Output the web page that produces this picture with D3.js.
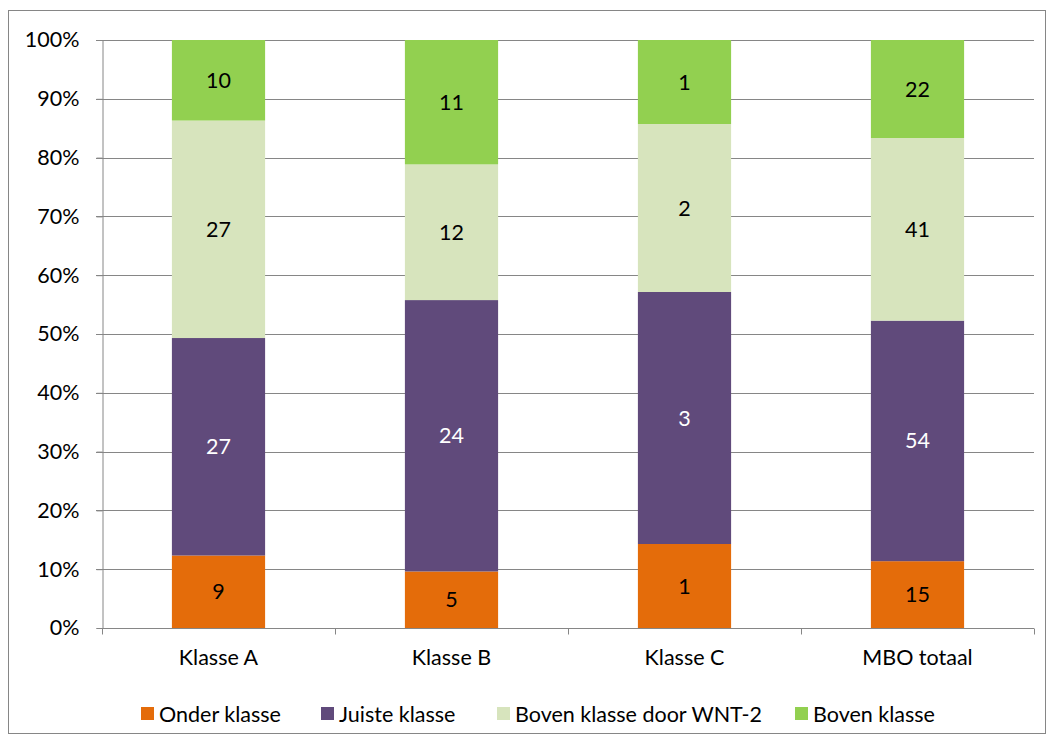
<!DOCTYPE html>
<html>
<head>
<meta charset="utf-8">
<script src="https://cdn.jsdelivr.net/npm/d3@7"></script>
<style>
  body { margin: 0; background: #fff; }
  text { font-family: Lato, "Open Sans", sans-serif; }
</style>
</head>
<body>
<div id="chart"></div>
<script>
// data (counts per group)
var categories = ["Klasse A", "Klasse B", "Klasse C", "MBO totaal"];
var seriesNames = ["Onder klasse", "Juiste klasse", "Boven klasse door WNT-2", "Boven klasse"];
var onder = [9, 5, 1, 15];
var juiste = [27, 24, 3, 54];
var bovenWnt = [27, 12, 2, 41];
var boven = [10, 11, 1, 22];
var yTicks = [0, 0.1, 0.2, 0.3, 0.4, 0.5, 0.6, 0.7, 0.8, 0.9, 1];

var colors = ["#E46C0A", "#604A7B", "#D7E4BD", "#92D050"];
var labelColors = ["#000", "#fff", "#000", "#000"];

var width = 1054, height = 744;
var plotLeft = 102, plotRight = 1034, plotTop = 40, plotBottom = 628;
var fontSize = "21.5px";

var svg = d3.select("#chart").append("svg")
  .attr("width", width)
  .attr("height", height);

// outer frame
svg.append("rect")
  .attr("x", 8.5).attr("y", 10.5)
  .attr("width", 1037).attr("height", 723)
  .attr("fill", "#fff")
  .attr("stroke", "#868686")
  .attr("stroke-width", 1);

var table = categories.map(function (c, i) {
  var row = {cat: c};
  row[seriesNames[0]] = onder[i];
  row[seriesNames[1]] = juiste[i];
  row[seriesNames[2]] = bovenWnt[i];
  row[seriesNames[3]] = boven[i];
  return row;
});

var stack = d3.stack().keys(seriesNames).offset(d3.stackOffsetExpand);
var layers = stack(table);

var x = d3.scaleBand().domain(categories).range([plotLeft, plotRight]).paddingInner(0.6).paddingOuter(0.3);
var xOuter = d3.scaleBand().domain(categories).range([plotLeft, plotRight]);
var y = d3.scaleLinear().domain([0, 1]).range([plotBottom, plotTop]);

// gridlines
svg.append("g")
  .selectAll("line")
  .data(yTicks.slice(1))
  .enter().append("line")
  .attr("x1", plotLeft - 6).attr("x2", plotRight)
  .attr("y1", function (d) { return Math.round(y(d)) + 0.5; })
  .attr("y2", function (d) { return Math.round(y(d)) + 0.5; })
  .attr("stroke", "#868686")
  .attr("stroke-width", 1);

// bars
var groups = svg.append("g").selectAll("g")
  .data(layers)
  .enter().append("g")
  .attr("fill", function (d, i) { return colors[i]; });

groups.selectAll("rect")
  .data(function (d) { return d; })
  .enter().append("rect")
  .attr("x", function (d) { return x(d.data.cat); })
  .attr("width", x.bandwidth())
  .attr("y", function (d) { return y(d[1]); })
  .attr("height", function (d) { return y(d[0]) - y(d[1]); });

// value labels
layers.forEach(function (layer, i) {
  svg.append("g").selectAll("text")
    .data(layer)
    .enter().append("text")
    .attr("x", function (d) { return x(d.data.cat) + x.bandwidth() / 2; })
    .attr("y", function (d) { return (y(d[0]) + y(d[1])) / 2; })
    .attr("dy", "0.35em")
    .attr("text-anchor", "middle")
    .style("font-size", fontSize)
    .attr("fill", labelColors[i])
    .text(function (d) { return d.data[layer.key]; });
});

// y axis
var yAxis = d3.axisLeft(y).tickValues(yTicks).tickFormat(d3.format(".0%")).tickSize(6).tickPadding(17);
var gy = svg.append("g")
  .attr("transform", "translate(" + (plotLeft + 0.5) + ",0)")
  .call(yAxis);
gy.select(".domain").attr("stroke", "#868686");
gy.selectAll(".tick line").attr("stroke", "#868686");
gy.selectAll(".tick text").style("font-size", fontSize).attr("fill", "#000")
  .style("font-family", "Lato, sans-serif");

// x axis with ticks between categories
var gx = svg.append("g").attr("transform", "translate(0," + (plotBottom + 0.5) + ")");
gx.append("line")
  .attr("x1", plotLeft).attr("x2", plotRight)
  .attr("stroke", "#868686");
gx.selectAll(".sep")
  .data(categories.concat(["end"]))
  .enter().append("line")
  .attr("class", "sep")
  .attr("x1", function (d, i) { return Math.round(plotLeft + i * xOuter.step()) + 0.5; })
  .attr("x2", function (d, i) { return Math.round(plotLeft + i * xOuter.step()) + 0.5; })
  .attr("y1", 0).attr("y2", 6)
  .attr("stroke", "#868686");
gx.selectAll(".lbl")
  .data(categories)
  .enter().append("text")
  .attr("x", function (d) { return xOuter(d) + xOuter.bandwidth() / 2; })
  .attr("y", 36)
  .attr("text-anchor", "middle")
  .style("font-size", fontSize)
  .text(function (d) { return d; });

// legend
var legendX = [141, 321, 497, 795];
var legend = svg.append("g").attr("id", "legend");
seriesNames.forEach(function (s, i) {
  legend.append("rect")
    .attr("x", legendX[i]).attr("y", 707)
    .attr("width", 13).attr("height", 13)
    .attr("fill", colors[i]);
  legend.append("text")
    .attr("x", legendX[i] + 18).attr("y", 714)
    .attr("dy", "0.35em")
    .style("font-size", fontSize)
    .text(s);
});
</script>
</body>
</html>
